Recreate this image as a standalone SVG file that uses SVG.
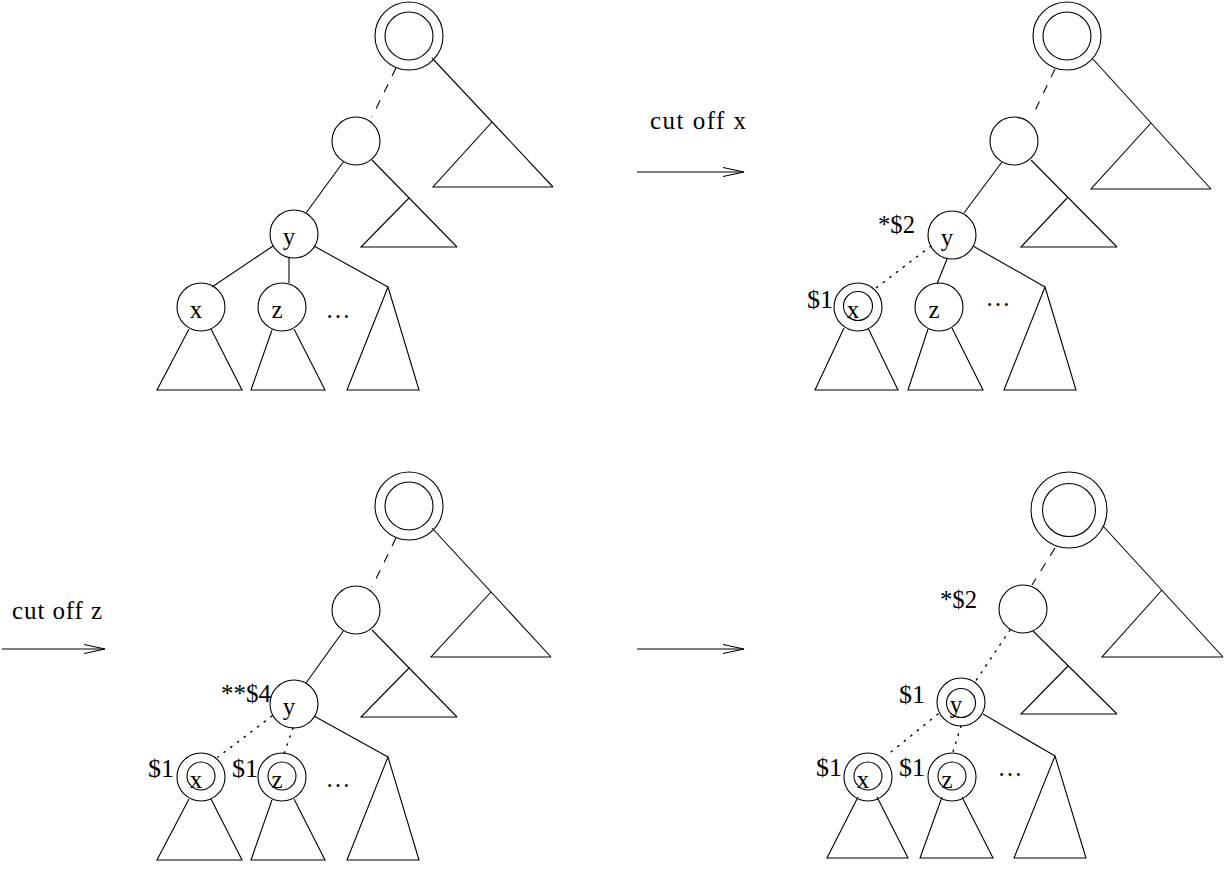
<svg xmlns="http://www.w3.org/2000/svg" width="1225" height="872" viewBox="0 0 1225 872">
<style>
.c{fill:none;stroke:#000;stroke-width:1.1}
.l{fill:none;stroke:#000;stroke-width:1.1}
.d{fill:none;stroke:#000;stroke-width:1.1;stroke-dasharray:9 9}
.o{fill:none;stroke:#000;stroke-width:1.4;stroke-dasharray:1.4 7;stroke-linecap:round}
.t{font-family:"Liberation Serif","Times New Roman",serif;font-size:25px;fill:#000}
.s{font-family:"Liberation Serif","Times New Roman",serif;font-size:26px;fill:#000}
.m{text-anchor:middle}
</style>
<defs>
<marker id="arr" markerUnits="userSpaceOnUse" markerWidth="24" markerHeight="12" viewBox="0 0 24 12" refX="22" refY="6" orient="auto">
<path d="M1,1.5 L22,6 L1,10.5" fill="none" stroke="#000" stroke-width="1.1"/>
</marker>
</defs>

<!-- ===== Top-left tree ===== -->
<g id="tl-root"><circle class="c" cx="409" cy="36" r="34"/><circle class="c" cx="409" cy="36" r="24"/></g>
<g id="tl-mid"><circle class="c" cx="356" cy="141" r="24"/></g>
<g id="tl-y"><circle class="c" cx="294" cy="234" r="24"/><text class="t m" x="289" y="245">y</text></g>
<g id="tl-x"><circle class="c" cx="201" cy="307" r="24"/><text class="t m" x="196" y="318">x</text></g>
<g id="tl-z"><circle class="c" cx="282" cy="307" r="24"/><text class="t m" x="277" y="318">z</text></g>
<g id="tl-dots"><text class="t m" x="338" y="318">…</text></g>
<g id="tl-subtrees">
<path class="l" d="M492,122 L433,187 L553,187"/>
<path class="l" d="M409,198 L361,247 L457,247"/>
<path class="l" d="M388,287 L347,390 L419,390 Z"/>
<path class="l" d="M189,329 L157,390 L242,390 L211,329"/>
<path class="l" d="M272,330 L251,390 L325,390 L294,329"/>
</g>

<!-- ===== Top-right tree ===== -->
<g id="tr-root"><circle class="c" cx="1067" cy="36" r="34"/><circle class="c" cx="1067" cy="36" r="24"/></g>
<g id="tr-mid"><circle class="c" cx="1014" cy="141" r="24"/></g>
<g id="tr-y"><circle class="c" cx="952" cy="235" r="24"/><text class="t m" x="947" y="246">y</text><text class="s" x="878" y="233" textLength="37" lengthAdjust="spacingAndGlyphs">*$2</text></g>
<g id="tr-x"><circle class="c" cx="858" cy="307" r="24"/><circle class="c" cx="858" cy="306" r="14.5"/><text class="t m" x="853" y="318">x</text><text class="s" x="807" y="308">$1</text></g>
<g id="tr-z"><circle class="c" cx="939" cy="307" r="24"/><text class="t m" x="934" y="318">z</text></g>
<g id="tr-dots"><text class="t m" x="998" y="306">…</text></g>
<g id="tr-subtrees">
<path class="l" d="M1151,123 L1091,189 L1211,189"/>
<path class="l" d="M1068,197 L1021,247 L1117,247"/>
<path class="l" d="M1045,287 L1004,390 L1076,390 Z"/>
<path class="l" d="M844,328 L815,390 L898,390 L868,328"/>
<path class="l" d="M928,329 L908,390 L983,390 L952,328"/>
</g>

<!-- ===== Bottom-left tree ===== -->
<g id="bl-root"><circle class="c" cx="409" cy="506" r="34"/><circle class="c" cx="409" cy="506" r="24"/></g>
<g id="bl-mid"><circle class="c" cx="356" cy="610" r="24"/></g>
<g id="bl-y"><circle class="c" cx="294" cy="704" r="24"/><text class="t m" x="289" y="715">y</text><text class="s" x="221" y="702" textLength="50" lengthAdjust="spacingAndGlyphs">**$4</text></g>
<g id="bl-x"><circle class="c" cx="201" cy="777" r="24"/><circle class="c" cx="201" cy="776" r="14"/><text class="t m" x="196" y="788">x</text><text class="s" x="148" y="777">$1</text></g>
<g id="bl-z"><circle class="c" cx="282" cy="777" r="24"/><circle class="c" cx="282" cy="776" r="14"/><text class="t m" x="277" y="788">z</text><text class="s" x="232" y="777">$1</text></g>
<g id="bl-dots"><text class="t m" x="338" y="787">…</text></g>
<g id="bl-subtrees">
<path class="l" d="M491,592 L431,657 L551,657"/>
<path class="l" d="M409,668 L361,717 L457,717"/>
<path class="l" d="M388,757 L347,860 L419,860 Z"/>
<path class="l" d="M189,799 L157,860 L242,860 L211,799"/>
<path class="l" d="M272,800 L251,860 L325,860 L294,799"/>
</g>

<!-- ===== Bottom-right tree ===== -->
<g id="br-root"><circle class="c" cx="1069" cy="510" r="38"/><circle class="c" cx="1069" cy="510" r="26.5"/></g>
<g id="br-mid"><circle class="c" cx="1023" cy="609" r="24"/><text class="s" x="940" y="608" textLength="37" lengthAdjust="spacingAndGlyphs">*$2</text></g>
<g id="br-y"><circle class="c" cx="961" cy="702" r="24"/><circle class="c" cx="961" cy="703" r="14.5"/><text class="t m" x="956" y="713">y</text><text class="s" x="899" y="703">$1</text></g>
<g id="br-x"><circle class="c" cx="868" cy="777" r="24"/><circle class="c" cx="868" cy="776" r="14"/><text class="t m" x="863" y="788">x</text><text class="s" x="816" y="776">$1</text></g>
<g id="br-z"><circle class="c" cx="952" cy="777" r="24"/><circle class="c" cx="952" cy="776" r="14"/><text class="t m" x="947" y="788">z</text><text class="s" x="899" y="776">$1</text></g>
<g id="br-dots"><text class="t m" x="1010" y="776">…</text></g>
<g id="br-subtrees">
<path class="l" d="M1162,590 L1102,657 L1223,657"/>
<path class="l" d="M1068,666 L1021,714 L1117,714"/>
<path class="l" d="M1055,756 L1014,858 L1086,858 Z"/>
<path class="l" d="M858,797 L827,858 L908,858 L877,797"/>
<path class="l" d="M942,797 L920,858 L993,858 L962,797"/>
</g>

<!-- ===== Transition arrows ===== -->
<g id="arrow-cut-x">
<text class="t" x="650" y="129" textLength="96" lengthAdjust="spacing">cut off x</text>
<line class="l" x1="637" y1="172" x2="744" y2="172" marker-end="url(#arr)"/>
</g>
<g id="arrow-cut-z">
<text class="t" x="12" y="619" textLength="90" lengthAdjust="spacing">cut off z</text>
<line class="l" x1="2" y1="649" x2="105" y2="649" marker-end="url(#arr)"/>
</g>
<g id="arrow-final">
<line class="l" x1="637" y1="649" x2="744" y2="649" marker-end="url(#arr)"/>
</g>

<!-- ===== Connectors ===== -->
<g id="connectors">
<!-- top-left -->
<line class="d" x1="396" y1="68" x2="372" y2="117"/>
<line class="l" x1="432" y1="58" x2="553" y2="187"/>
<line class="l" x1="344" y1="161" x2="306" y2="213"/>
<line class="l" x1="372" y1="160" x2="457" y2="247"/>
<line class="l" x1="273" y1="246" x2="212" y2="287"/>
<line class="l" x1="289" y1="258" x2="289" y2="283"/>
<line class="l" x1="314" y1="246" x2="388" y2="287"/>
<!-- top-right -->
<line class="d" x1="1055" y1="69" x2="1032" y2="117"/>
<line class="l" x1="1092" y1="58" x2="1211" y2="189"/>
<line class="l" x1="1002" y1="162" x2="964" y2="213"/>
<line class="l" x1="1031" y1="160" x2="1117" y2="247"/>
<line class="o" x1="931" y1="246" x2="876" y2="288"/>
<line class="l" x1="947" y1="259" x2="937" y2="284"/>
<line class="l" x1="973" y1="246" x2="1045" y2="287"/>
<!-- bottom-left -->
<line class="d" x1="396" y1="538" x2="372" y2="587"/>
<line class="l" x1="432" y1="528" x2="551" y2="657"/>
<line class="l" x1="344" y1="630" x2="306" y2="683"/>
<line class="l" x1="372" y1="630" x2="457" y2="717"/>
<line class="o" x1="272" y1="716" x2="218" y2="757"/>
<line class="o" x1="293" y1="728" x2="284" y2="754"/>
<line class="l" x1="314" y1="716" x2="388" y2="757"/>
<!-- bottom-right -->
<line class="d" x1="1055" y1="548" x2="1032" y2="585"/>
<line class="l" x1="1103" y1="526" x2="1223" y2="657"/>
<line class="o" x1="1010" y1="630" x2="975" y2="682"/>
<line class="l" x1="1033" y1="631" x2="1117" y2="714"/>
<line class="o" x1="938" y1="714" x2="886" y2="756"/>
<line class="o" x1="961" y1="726" x2="952" y2="755"/>
<line class="l" x1="983" y1="714" x2="1055" y2="756"/>
</g>
</svg>
